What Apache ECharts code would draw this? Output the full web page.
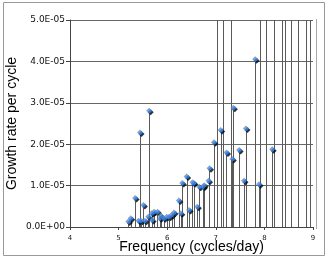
<!DOCTYPE html>
<html><head><meta charset="utf-8">
<script src="https://cdn.jsdelivr.net/npm/echarts@6/dist/echarts.min.js"></script>
<style>html,body{margin:0;padding:0;background:#fff}#c{width:327px;height:258px}</style>
</head><body><div id="c"></div>
<script>
// Visible points: frequency (cycles/day) and growth rate per cycle (units of 1E-05)
const freq = [5.20,5.25,5.34,5.41,5.44,5.46,5.51,5.54,5.61,5.63,5.68,5.69,5.73,5.80,5.85,5.87,5.93,5.99,6.04,6.09,6.14,6.24,6.28,6.31,6.40,6.45,6.52,6.55,6.62,6.66,6.74,6.76,6.85,6.87,6.96,7.10,7.22,7.34,7.36,7.48,7.58,7.62,7.81,7.89,8.16];
const rate = [0.13,0.21,0.70,0.15,2.28,0.15,0.53,0.15,0.25,2.81,0.33,0.17,0.37,0.37,0.21,0.27,0.21,0.25,0.25,0.29,0.35,0.64,0.33,1.06,1.22,0.41,1.08,1.06,0.49,0.97,0.97,1.01,1.12,1.42,2.05,2.34,1.80,1.64,2.88,1.86,1.12,2.38,4.05,1.03,1.88];
// Points beyond the top of the chart (values above 5E-05, only their stems show)
const offFreq = [7.03,7.15,7.31,7.91,8.03,8.20,8.36,8.42,8.54,8.70,8.86,8.94];
const offRate = [6.5,6.5,6.5,6.5,6.5,6.5,6.5,6.5,6.5,6.5,6.5,6.5];
const yTicks = [0,1,2,3,4,5];
const xTicks = [4,5,6,7,8,9];

const pts = freq.map((f,i)=>[f, rate[i]*1e-5]);
const offPts = offFreq.map((f,i)=>[f, offRate[i]*1e-5]);
const allPts = pts.concat(offPts);

function fmtE(v){
  let s = v.toExponential(1).toUpperCase();
  return s.replace(/E([+-])(\d)$/, 'E$10$2');
}

const chart = echarts.init(document.getElementById('c'));
chart.setOption({
  animation:false,
  grid:{left:70,right:14,top:20,bottom:31,show:false,outerBoundsMode:'none',containLabel:false},
  graphic:[
    {type:'rect',shape:{x:3.5,y:2.5,width:321,height:253},style:{fill:'none',stroke:'#999',lineWidth:1},z:-1},
    {type:'line',shape:{x1:316.5,y1:19,x2:316.5,y2:229},style:{stroke:'#aaa',lineWidth:1}}
  ],
  xAxis:{type:'value',min:xTicks[0],max:xTicks[xTicks.length-1],interval:1,
    name:'Frequency (cycles/day)',nameLocation:'middle',nameGap:13,nameMoveOverlap:false,
    nameTextStyle:{fontFamily:'Liberation Sans',fontSize:14,color:'#000'},
    axisLine:{lineStyle:{color:'#444',width:1}},
    axisTick:{show:true,inside:false,length:3,lineStyle:{color:'#444'}},
    axisLabel:{fontFamily:'DejaVu Sans',fontSize:7,color:'#222',margin:8},
    splitLine:{show:false}},
  yAxis:{type:'value',min:0,max:5e-5,interval:1e-5,
    name:'Growth rate per cycle',nameLocation:'middle',nameGap:51,nameMoveOverlap:false,
    nameTextStyle:{fontFamily:'Liberation Sans',fontSize:14,color:'#000'},
    axisLine:{show:true,lineStyle:{color:'#444',width:1}},
    axisTick:{show:true,inside:false,length:4,lineStyle:{color:'#444'}},
    axisLabel:{fontFamily:'DejaVu Sans',fontSize:9,color:'#111',margin:5,formatter:fmtE},
    splitLine:{show:true,lineStyle:{color:'#666',width:1}}},
  series:[
    {type:'custom',clip:true,data:allPts,z:2,
     renderItem:function(params,api){
       const p0 = api.coord([api.value(0),0]);
       const p1 = api.coord([api.value(0),api.value(1)]);
       return {type:'line',shape:{x1:Math.round(p0[0])+0.5,y1:p0[1],x2:Math.round(p1[0])+0.5,y2:p1[1]},
         style:{stroke:'#5a5a5a',lineWidth:1}};
     }},
    {type:'scatter',clip:true,data:pts,symbol:'diamond',symbolSize:6,z:3,
     itemStyle:{color:'#4a90e8',shadowColor:'#000',shadowOffsetX:1.5,shadowOffsetY:1.5,shadowBlur:0}}
  ]
});
</script></body></html>
